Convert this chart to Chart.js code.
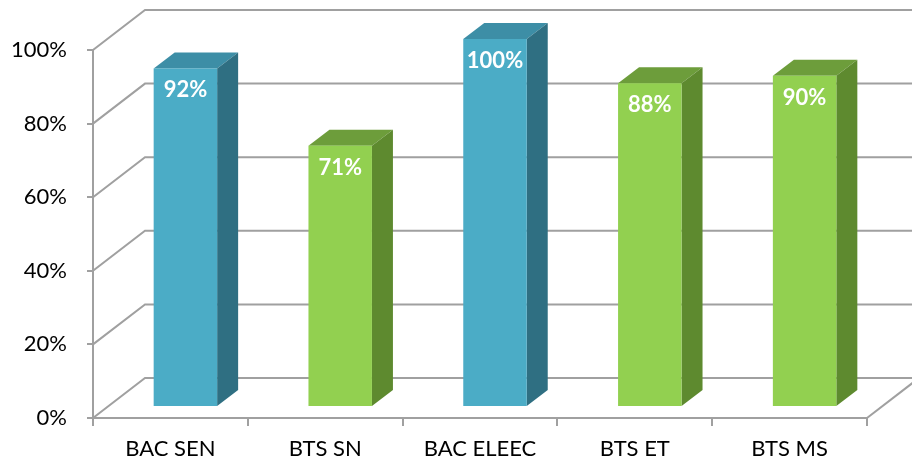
<!DOCTYPE html>
<html>
<head>
<meta charset="utf-8">
<script src="https://cdn.jsdelivr.net/npm/chart.js@4.4.1/dist/chart.umd.min.js"></script>
<style>
  html, body { margin: 0; padding: 0; background: #fff; }
</style>
</head>
<body>
<canvas id="rates-chart" width="912" height="466"></canvas>
<script>
// Data
const categories = ['BAC SEN', 'BTS SN', 'BAC ELEEC', 'BTS ET', 'BTS MS'];
const rates = [92, 71, 100, 88, 90];
const yTicks = [0, 20, 40, 60, 80, 100];

// Bar colours (front / top / side)
const BLUE = { front: '#4BACC6', top: '#3D8EA6', side: '#2F6F82' };
const GREEN = { front: '#92D050', top: '#6D9D3B', side: '#5E8A2F' };
const barStyles = [BLUE, GREEN, BLUE, GREEN, GREEN];

// 3D geometry
const WALL = { dx: 52, dy: -40 };
const BAR_SHIFT = { dx: 15, dy: -11 };
const BAR_DEPTH = { dx: 21, dy: -16 };
const GRID = '#A0A0A0';
const FONT = 'Lato, Calibri, "Open Sans", sans-serif';

const box3d = {
    id: 'box3d',
    beforeDatasetsDraw(chart) {
        const { ctx, chartArea: a, scales: { y } } = chart;
        ctx.save();
        ctx.strokeStyle = GRID;
        ctx.lineWidth = 2;
        // side wall diagonals + back wall lines
        yTicks.forEach(v => {
            const py = y.getPixelForValue(v);
            ctx.beginPath();
            ctx.moveTo(a.left, py);
            ctx.lineTo(a.left + WALL.dx, py + WALL.dy);
            ctx.lineTo(a.right + WALL.dx, py + WALL.dy);
            ctx.stroke();
        });
        // floor, right edge
        const p0 = y.getPixelForValue(0);
        ctx.beginPath();
        ctx.moveTo(a.right, p0);
        ctx.lineTo(a.right + WALL.dx, p0 + WALL.dy);
        ctx.stroke();
        ctx.restore();
    },
    afterDatasetsDraw(chart) {
        const { ctx } = chart;
        const meta = chart.getDatasetMeta(0);
        ctx.save();
        meta.data.forEach((bar, i) => {
            const { x, y, base, width } = bar.getProps(['x', 'y', 'base', 'width'], true);
            const st = barStyles[i];
            const L = x - width / 2 + BAR_SHIFT.dx;
            const R = x + width / 2 + BAR_SHIFT.dx;
            const T = y + BAR_SHIFT.dy;
            const B = base + BAR_SHIFT.dy;

            // top
            ctx.fillStyle = st.top;
            ctx.beginPath();
            ctx.moveTo(L, T);
            ctx.lineTo(L + BAR_DEPTH.dx, T + BAR_DEPTH.dy);
            ctx.lineTo(R + BAR_DEPTH.dx, T + BAR_DEPTH.dy);
            ctx.lineTo(R, T);
            ctx.closePath();
            ctx.fill();

            // side
            ctx.fillStyle = st.side;
            ctx.beginPath();
            ctx.moveTo(R, T);
            ctx.lineTo(R + BAR_DEPTH.dx, T + BAR_DEPTH.dy);
            ctx.lineTo(R + BAR_DEPTH.dx, B + BAR_DEPTH.dy);
            ctx.lineTo(R, B);
            ctx.closePath();
            ctx.fill();

            // front
            ctx.fillStyle = st.front;
            ctx.fillRect(L, T, R - L, B - T);

            // value label
            ctx.fillStyle = '#FFFFFF';
            ctx.font = 'bold 22px ' + FONT;
            ctx.textAlign = 'center';
            ctx.textBaseline = 'alphabetic';
            ctx.fillText(rates[i] + '%', (L + R) / 2, T + 29);
        });
        ctx.restore();
    }
};

new Chart(document.getElementById('rates-chart'), {
    type: 'bar',
    data: {
        labels: categories,
        datasets: [{
            data: rates,
            backgroundColor: 'rgba(0,0,0,0)',
            borderWidth: 0,
            barPercentage: 1,
            categoryPercentage: 0.41
        }]
    },
    options: {
        responsive: false,
        animation: false,
        devicePixelRatio: 1,
        layout: { padding: { left: 0, right: 45, top: 50, bottom: 0 } },
        plugins: {
            legend: { display: false },
            tooltip: { enabled: false }
        },
        scales: {
            x: {
                grid: { drawOnChartArea: false, color: GRID, lineWidth: 2, tickLength: 8 },
                border: { color: GRID, width: 2 },
                ticks: { color: '#000', font: { family: FONT, size: 22 }, padding: 10, maxRotation: 0 },
                afterFit: s => { s.height = 48; }
            },
            y: {
                min: 0,
                max: 100,
                grid: { drawOnChartArea: false, color: GRID, lineWidth: 2, tickLength: 6 },
                border: { color: GRID, width: 2 },
                ticks: {
                    stepSize: 20,
                    color: '#000',
                    font: { family: FONT, size: 22 },
                    padding: 20,
                    callback: v => v + '%'
                },
                afterFit: s => { s.width = 93; }
            }
        }
    },
    plugins: [box3d]
});
</script>
</body>
</html>
